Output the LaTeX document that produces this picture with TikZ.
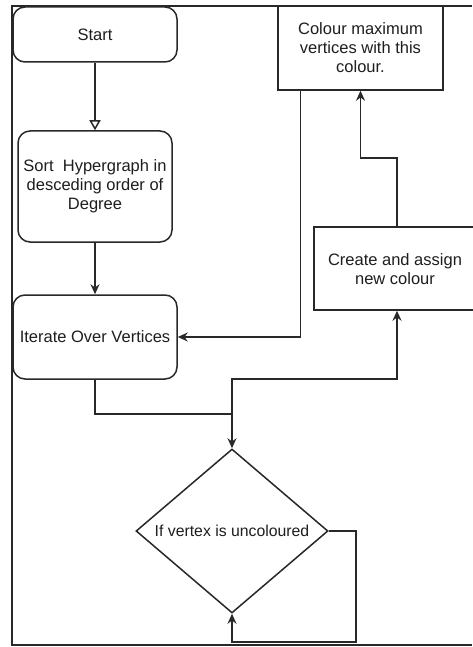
\documentclass[tikz,border=0pt]{standalone}
\usepackage{fontspec}
\setmainfont{Liberation Sans}
\usetikzlibrary{arrows.meta,shapes.geometric}
\definecolor{ln}{RGB}{40,40,40}
\definecolor{tx}{RGB}{30,30,30}
\begin{document}
\begin{tikzpicture}[x=1pt,y=-1pt,
  every node/.style={font=\fontsize{16.5}{19}\selectfont, text=tx, align=center},
  rbox/.style={draw=ln, line width=1.5pt, rounded corners=12pt, inner sep=0pt},
  sbox/.style={draw=ln, line width=1.5pt, inner sep=0pt},
  conn/.style={draw=ln, line width=1.5pt},
  arr/.style={conn, -{Stealth[length=10pt,width=9pt]}},
  oarr/.style={conn, -{Triangle[open,length=10pt,width=11pt]}}]
\useasboundingbox (0,0) rectangle (472,647);
\fill[white] (0,0) rectangle (472,647);
% frame
\draw[ln, line width=2pt] (472,6) -- (12,6) -- (12,645) -- (472,645);
% nodes
\node[rbox, minimum width=164pt, minimum height=55pt] (start) at (95,34.5) {Start};
\node[rbox, minimum width=154pt, minimum height=111pt] (sort) at (95,186.5) {Sort~~Hypergraph in\\desceding order of\\Degree};
\node[rbox, minimum width=164pt, minimum height=84pt] (iter) at (95,337) {Iterate Over Vertices};
\node[sbox, minimum width=165pt, minimum height=84pt] (colour) at (360.5,48) {Colour maximum\\vertices with this\\colour.};
\node[sbox, minimum width=166pt, minimum height=83pt] (create) at (397,268.5) {};
\node (createtext) at (395,269) {Create and assign\\new colour};
\node[diamond, draw=ln, line width=1.5pt, minimum width=192pt, minimum height=164pt, inner sep=0pt] (dec) at (232,531) {};
\node[font=\fontsize{15.8}{18}\selectfont] (dectext) at (dec.center) {If vertex is uncoloured};
% coordinates
\coordinate (j) at (232,414);
\coordinate (k) at (232,379);
\coordinate (m) at (397,158);
\coordinate (l1) at (356,642);
% connectors
\draw[oarr] (start) -- (sort);
\draw[arr] (sort) -- (iter);
\draw[arr] ([xshift=23pt]colour.south west) |- (iter.east);
\draw[conn] (iter.south) |- (j);
\draw[arr] (j) -- (dec.north);
\draw[arr] (j) -- (k) -| (create.south);
\draw[arr] (create.north) -- (m) -| (colour.south);
\draw[arr] (dec.east) -| (l1) -| (dec.south);
\end{tikzpicture}
\end{document}
